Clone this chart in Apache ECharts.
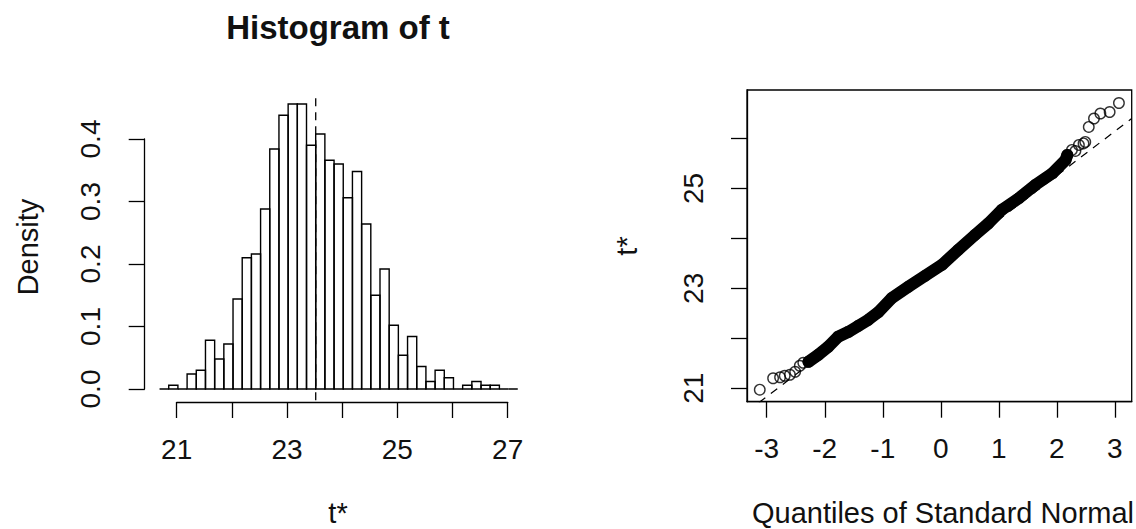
<!DOCTYPE html>
<html><head><meta charset="utf-8">
<script src="https://cdn.jsdelivr.net/npm/echarts@6/dist/echarts.min.js"></script>
<style>html,body{margin:0;padding:0;background:#fff}#c{width:1136px;height:529px}</style>
</head><body><div id="c"></div>
<script>
// ---------- Histogram of t (bootstrap replicates) ----------
const histT0 = 23.52;              // observed statistic (dashed line)
const histFirstBreak = 20.689;     // first histogram break
const histBinWidth = 0.1665;       // width of every bin
const histDensity = [0, 0.006, 0, 0.024, 0.030, 0.078, 0.048, 0.072, 0.144, 0.210,
  0.216, 0.288, 0.384, 0.438, 0.456, 0.456, 0.390, 0.408, 0.366, 0.360,
  0.306, 0.348, 0.264, 0.150, 0.192, 0.102, 0.054, 0.084, 0.036, 0.012,
  0.030, 0.018, 0, 0.006, 0.012, 0.006, 0.006, 0, 0];
const histXTicks = [21, 22, 23, 24, 25, 26, 27];
const histXLabels = [21, 23, 25, 27];
const histYRange = [-0.018, 0.474];   // vertical extent of the plot region (dashed line)

// ---------- Normal Q-Q plot of t* ----------
const qqX = [-3.12, -2.89, -2.77, -2.69, -2.60, -2.51, -2.43, -2.37, -2.28, -2.11,
  -1.94, -1.77, -1.59, -1.42, -1.25, -1.08, -0.85, -0.56, -0.27, 0.02,
  0.30, 0.59, 0.82, 1.05, 1.34, 1.63, 1.92, 2.15, 2.18, 2.26,
  2.32, 2.38, 2.46, 2.49, 2.55, 2.64, 2.75, 2.91, 3.07];
const qqT = [20.97, 21.20, 21.22, 21.25, 21.27, 21.33, 21.45, 21.51, 21.53, 21.67,
  21.83, 22.03, 22.13, 22.25, 22.37, 22.52, 22.80, 23.03, 23.25, 23.47,
  23.77, 24.07, 24.30, 24.57, 24.80, 25.07, 25.30, 25.57, 25.67, 25.77,
  25.75, 25.87, 25.90, 25.93, 26.23, 26.40, 26.50, 26.53, 26.71];
const qqDenseFrom = 8, qqDenseTo = 28;   // index range where the points merge into a solid band
const qqRefX = [-3.34, 3.29];
const qqRefT = [20.53, 26.40];
const qqXTicks = [-3, -2, -1, 0, 1, 2, 3];
const qqYTicks = [21, 22, 23, 24, 25, 26];
const qqYLabels = [21, 23, 25];

const FONT = '"Liberation Sans", Arial, Helvetica, sans-serif';
const INK = '#111';
const lineW = 1.3;

const histData = histDensity.map((d, i) => [histFirstBreak + i * histBinWidth, histFirstBreak + (i + 1) * histBinWidth, d]);
const qqPts = qqX.map((x, i) => [x, qqT[i]]);

const chart = echarts.init(document.getElementById('c'), null, {renderer: 'svg'});
const axisTxt = {color: INK, fontSize: 28, fontFamily: FONT};

chart.setOption({
  animation: false,
  backgroundColor: '#fff',
  grid: [
    {left: 176.7, right: 628.3, top: 139, bottom: 140},
    {left: 747, right: 4.3, top: 90, bottom: 127.3, show: true, borderColor: '#000', borderWidth: lineW, backgroundColor: 'transparent'}
  ],
  xAxis: [
    {gridIndex: 0, type: 'value', min: 21, max: 27, interval: 1, offset: 13,
      axisLine: {onZero: false, lineStyle: {color: '#000', width: lineW}},
      axisTick: {length: 16, customValues: histXTicks, lineStyle: {color: '#000', width: lineW}},
      axisLabel: Object.assign({customValues: histXLabels, margin: 33}, axisTxt),
      splitLine: {show: false}},
    {gridIndex: 1, type: 'value', min: -3.34, max: 3.29,
      axisLine: {show: true, onZero: false, lineStyle: {color: '#000', width: lineW}},
      axisTick: {length: 16, customValues: qqXTicks, lineStyle: {color: '#000', width: lineW}},
      axisLabel: Object.assign({customValues: qqXTicks, margin: 33}, axisTxt),
      splitLine: {show: false}}
  ],
  yAxis: [
    {gridIndex: 0, type: 'value', min: 0, max: 0.4, interval: 0.1, offset: 32,
      axisLine: {show: true, onZero: false, lineStyle: {color: '#000', width: lineW}},
      axisTick: {show: true, length: 16, lineStyle: {color: '#000', width: lineW}},
      axisLabel: Object.assign({rotate: 90, margin: 40, formatter: v => v.toFixed(1)}, axisTxt),
      splitLine: {show: false}},
    {gridIndex: 1, type: 'value', min: 20.73, max: 26.97,
      axisLine: {show: true, onZero: false, lineStyle: {color: '#000', width: lineW}},
      axisTick: {show: true, length: 16, customValues: qqYTicks, lineStyle: {color: '#000', width: lineW}},
      axisLabel: Object.assign({rotate: 90, margin: 40, customValues: qqYLabels}, axisTxt),
      splitLine: {show: false}}
  ],
  graphic: [
    {type: 'text', x: 338, y: 27, style: {text: 'Histogram of t', font: 'bold 33px ' + FONT, fill: INK, textAlign: 'center', textVerticalAlign: 'middle'}},
    {type: 'text', x: 338, y: 513, style: {text: 't*', font: '29px ' + FONT, fill: INK, textAlign: 'center', textVerticalAlign: 'middle'}},
    {type: 'text', x: 28, y: 247, rotation: Math.PI / 2, style: {text: 'Density', font: '29px ' + FONT, fill: INK, textAlign: 'center', textVerticalAlign: 'middle'}},
    {type: 'text', x: 943, y: 513, style: {text: 'Quantiles of Standard Normal', font: '29px ' + FONT, fill: INK, textAlign: 'center', textVerticalAlign: 'middle'}},
    {type: 'text', x: 627, y: 246, rotation: Math.PI / 2, style: {text: 't*', font: '29px ' + FONT, fill: INK, textAlign: 'center', textVerticalAlign: 'middle'}}
  ],
  series: [
    {type: 'custom', xAxisIndex: 0, yAxisIndex: 0, clip: false, silent: true,
      data: histData, encode: {x: [0, 1], y: 2},
      renderItem: function (params, api) {
        const p0 = api.coord([api.value(0), api.value(2)]);
        const p1 = api.coord([api.value(1), 0]);
        return {type: 'rect', shape: {x: p0[0], y: p0[1], width: p1[0] - p0[0], height: p1[1] - p0[1]},
          style: {fill: 'none', stroke: '#000', lineWidth: 1.4}};
      }},
    {type: 'line', xAxisIndex: 0, yAxisIndex: 0, clip: false, silent: true, symbol: 'none',
      data: [[histT0, histYRange[0]], [histT0, histYRange[1]]],
      lineStyle: {color: '#000', width: lineW, type: [8, 6]}},
    {type: 'line', xAxisIndex: 1, yAxisIndex: 1, silent: true, symbol: 'none',
      data: qqPts.slice(qqDenseFrom, qqDenseTo + 1),
      lineStyle: {color: '#000', width: 12, cap: 'round', join: 'round'}},
    {type: 'scatter', xAxisIndex: 1, yAxisIndex: 1, silent: true, symbol: 'circle', symbolSize: 10.5,
      data: qqPts, itemStyle: {color: 'rgba(0,0,0,0)', borderColor: '#000', borderWidth: 1.4}},
    {type: 'line', xAxisIndex: 1, yAxisIndex: 1, silent: true, symbol: 'none',
      data: qqRefX.map((x, i) => [x, qqRefT[i]]),
      lineStyle: {color: '#000', width: 1.2, type: [8, 7]}}
  ]
});
</script></body></html>
